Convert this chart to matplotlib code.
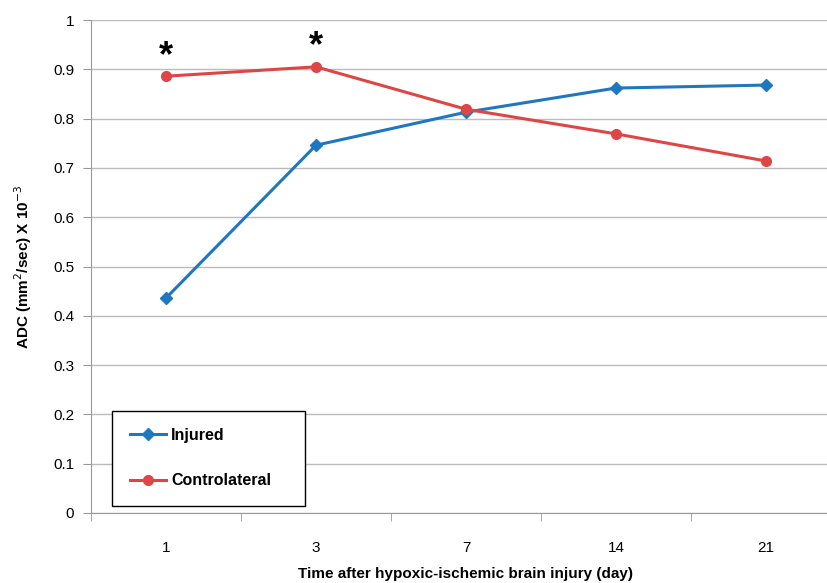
import numpy as np
import matplotlib.pyplot as plt

days = ['1', '3', '7', '14', '21']
injured = [0.436, 0.746, 0.813, 0.862, 0.868]
contralateral = [0.886, 0.905, 0.819, 0.769, 0.714]
star_days = [0, 1]
star_y = [0.925, 0.945]

plt.rcParams['font.family'] = ['Arial', 'Liberation Sans', 'DejaVu Sans']

fig = plt.figure(figsize=(8.28, 5.83), dpi=100)
# plot area runs past the right edge like the cropped original
ax = fig.add_axes([91/828, 1-513/583, 750/828, 493/583])

x = np.arange(len(days))
ax.plot(x, injured, color='#1f77c0', lw=2.2, marker='D', ms=6.5, label='Injured')
ax.plot(x, contralateral, color='#e04545', lw=2.2, marker='o', ms=7, label='Controlateral')

for i, yy in zip(star_days, star_y):
    ax.text(x[i], yy, '*', ha='center', va='center', fontsize=26, fontweight='bold')

ax.set_xlim(-0.5, 4.5)
ax.set_ylim(0, 1)
ax.set_yticks(np.arange(0, 1.01, 0.1))
ax.set_yticklabels(['0'] + [f'{v:.1f}' for v in np.arange(0.1, 0.95, 0.1)] + ['1'])
ax.set_xticks(x)
ax.set_xticklabels(days)
ax.set_xticks(np.arange(-0.5, 4.6, 1), minor=True)
ax.tick_params(axis='x', which='major', length=0, pad=20, labelsize=11)
ax.tick_params(axis='x', which='minor', length=6, color='#999999')
ax.tick_params(axis='y', length=6, color='#999999', labelsize=11, pad=6)
ax.yaxis.grid(True, color='#bbbbbb', lw=1)
ax.set_axisbelow(True)
for s in ['top', 'right']:
    ax.spines[s].set_visible(False)
for s in ['left', 'bottom']:
    ax.spines[s].set_color('#999999')

ax.set_xlabel('Time after hypoxic-ischemic brain injury (day)', fontsize=11, fontweight='bold', labelpad=9)
ax.set_ylabel('ADC (mm$^2$/sec) X 10$^{-3}$', fontsize=11, fontweight='bold', labelpad=14)

# legend box sized like the original
leg = ax.legend(loc='lower left', bbox_to_anchor=(21/750, 7/493, 193/750, 93/493),
                mode='expand', fancybox=False, edgecolor='black', framealpha=1,
                labelspacing=1.9, borderpad=1.1, handlelength=2.3, handletextpad=0.3,
                borderaxespad=0, prop={'weight': 'bold', 'size': 11.5})
leg.get_frame().set_linewidth(1)

fig.savefig('out.png', dpi=100)
